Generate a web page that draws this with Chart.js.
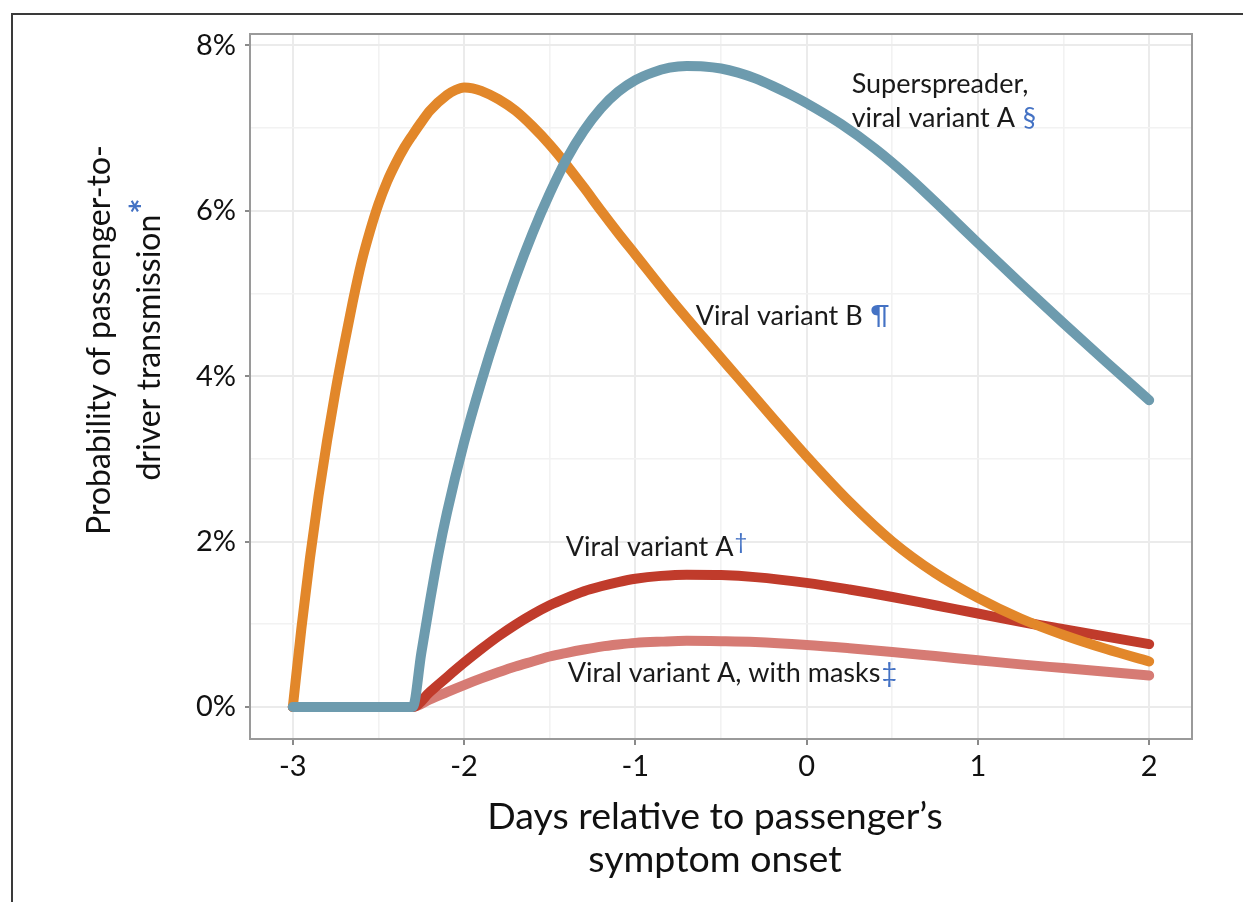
<!DOCTYPE html>
<html lang="en">
<head>
    <meta charset="UTF-8" />
    <title>Passenger-to-driver transmission</title>
    <style>
        body {
            margin: 0;
            background: #fff;
        }

        /* thin dark frame along the top and left edges */
        .frame {
            position: absolute;
            left: 11px;
            top: 13px;
            right: 0;
            bottom: 0;
            border-top: 2px solid #3a3a3a;
            border-left: 2px solid #3a3a3a;
        }

        .wrap {
            position: absolute;
            left: 0;
            top: 0;
            width: 1243px;
            height: 902px;
        }
    </style>
</head>
<body>
    <div class="frame"></div>
    <div class="wrap"><canvas id="chart"></canvas></div>

    <script src="https://cdn.jsdelivr.net/npm/chart.js"></script>
    <script>
        // Values: days relative to onset, probability in %
        const variantBDays = [-3, -2.95, -2.9, -2.85, -2.8, -2.75, -2.7, -2.65, -2.6, -2.55, -2.5, -2.45, -2.4,
            -2.35, -2.3, -2.25, -2.2, -2.1, -2.05, -2.0, -1.95, -1.9, -1.8, -1.7, -1.6, -1.5, -1.4, -1.3, -1.2,
            -1.1, -1.0, -0.8, -0.6, -0.4, -0.2, 0, 0.25, 0.5, 0.75, 1.0, 1.25, 1.5, 1.75, 2.0];
        const variantBValues = [0, 0.95, 1.8, 2.55, 3.22, 3.83, 4.38, 4.9, 5.37, 5.75, 6.08, 6.35, 6.57,
            6.76, 6.92, 7.07, 7.21, 7.4, 7.46, 7.49, 7.48, 7.45, 7.35, 7.21, 7.02, 6.8, 6.55, 6.28, 6.0,
            5.73, 5.47, 4.95, 4.46, 3.98, 3.5, 3.03, 2.48, 2.0, 1.62, 1.32, 1.07, 0.87, 0.7, 0.55];

        const superDays = [-3, -2.3, -2.25, -2.2, -2.15, -2.1, -2.0, -1.9, -1.8, -1.7, -1.6, -1.5, -1.4, -1.3,
            -1.2, -1.1, -1.0, -0.9, -0.8, -0.7, -0.6, -0.5, -0.4, -0.3, -0.2, -0.1, 0, 0.2, 0.4, 0.6, 0.8, 1.0,
            1.25, 1.5, 1.75, 2.0];
        const superValues = [0, 0, 0.65, 1.27, 1.85, 2.35, 3.2, 3.93, 4.59, 5.19, 5.73, 6.21, 6.63, 6.97,
            7.24, 7.44, 7.58, 7.67, 7.73, 7.75, 7.745, 7.72, 7.67, 7.6, 7.51, 7.41, 7.3, 7.05, 6.75, 6.4, 6.01, 5.61,
            5.12, 4.64, 4.17, 3.71];

        const variantADays = [-3, -2.3, -2.2, -2.1, -2.0, -1.9, -1.8, -1.7, -1.6, -1.5, -1.4, -1.3, -1.2, -1.1,
            -1.0, -0.85, -0.7, -0.5, -0.3, 0, 0.25, 0.5, 0.75, 1.0, 1.25, 1.5, 1.75, 2.0];
        const variantAValues = [0, 0, 0.18, 0.36, 0.535, 0.7, 0.855, 0.995, 1.12, 1.23, 1.32, 1.4, 1.46, 1.51,
            1.55, 1.585, 1.6, 1.595, 1.57, 1.5, 1.42, 1.33, 1.23, 1.13, 1.03, 0.94, 0.85, 0.76];

        const maskedDays = [-3, -2.3, -2.2, -2.1, -2.0, -1.9, -1.8, -1.7, -1.6, -1.5, -1.4, -1.3, -1.2, -1.1,
            -1.0, -0.85, -0.7, -0.5, -0.3, 0, 0.25, 0.5, 0.75, 1.0, 1.25, 1.5, 1.75, 2.0];
        const maskedValues = [0, 0, 0.09, 0.18, 0.265, 0.345, 0.42, 0.49, 0.55, 0.61, 0.655, 0.695, 0.73, 0.755,
            0.775, 0.79, 0.8, 0.795, 0.785, 0.75, 0.71, 0.665, 0.615, 0.565, 0.515, 0.47, 0.425, 0.38];

        // axis ticks (grid every half day / every 1 %, labels on whole days / even %)
        const xTicks = [-3, -2.5, -2, -1.5, -1, -0.5, 0, 0.5, 1, 1.5, 2];
        const yTicks = [0, 1, 2, 3, 4, 5, 6, 7, 8];

        // curve labels placed in data units
        const notes = [
            { text: 'Superspreader,', mark: '', x: 0.263, y: 7.43 },
            { text: 'viral variant A ', mark: '§', x: 0.263, y: 7.01 },
            { text: 'Viral variant B ', mark: '¶', x: -0.647, y: 4.62 },
            { text: 'Viral variant A', mark: '†', x: -1.406, y: 1.82, raised: true },
            { text: 'Viral variant A, with masks', mark: '‡', x: -1.395, y: 0.30 }
        ];

        const FONT = 'Lato, "Open Sans", sans-serif';
        const BLUE = '#4472C4';

        function toPoints(days, values) {
            return days.map((d, i) => ({ x: d, y: values[i] }));
        }

        // box, axis titles and curve labels
        const decorations = {
            id: 'decorations',
            afterDatasetsDraw(chart) {
                const ctx = chart.ctx;
                const xs = chart.scales.x, ys = chart.scales.y;
                ctx.save();
                ctx.textBaseline = 'alphabetic';
                ctx.textAlign = 'left';
                notes.forEach(n => {
                    const px = xs.getPixelForValue(n.x);
                    const py = ys.getPixelForValue(n.y);
                    ctx.font = '27px ' + FONT;
                    ctx.fillStyle = '#1a1a1a';
                    ctx.fillText(n.text, px, py);
                    if (n.mark) {
                        const w = ctx.measureText(n.text).width;
                        ctx.fillStyle = BLUE;
                        if (n.raised) {
                            ctx.font = '22px ' + FONT;
                            ctx.fillText(n.mark, px + w + 1, py - 7);
                        } else {
                            ctx.fillText(n.mark, px + w + 1, py);
                        }
                    }
                });
                ctx.restore();
            },
            afterDraw(chart) {
                const ctx = chart.ctx;
                const a = chart.chartArea;
                ctx.save();

                // panel border
                ctx.strokeStyle = '#9a9a9a';
                ctx.lineWidth = 2;
                ctx.strokeRect(a.left, a.top, a.right - a.left, a.bottom - a.top);

                // x title
                ctx.fillStyle = '#111';
                ctx.font = '37.5px ' + FONT;
                ctx.textAlign = 'center';
                ctx.textBaseline = 'alphabetic';
                ctx.fillText('Days relative to passenger\u2019s', 715, 829);
                ctx.fillText('symptom onset', 715, 872);

                // y title, rotated, with blue asterisk
                ctx.translate(110, 340);
                ctx.rotate(-Math.PI / 2);
                ctx.font = '32px ' + FONT;
                ctx.fillText('Probability of passenger-to-', 0, 0);
                const line2 = 'driver transmission';
                const w2 = ctx.measureText(line2).width;
                ctx.font = 'bold 36px ' + FONT;
                const ws = ctx.measureText('*').width;
                const start = -(w2 + ws) / 2;
                ctx.textAlign = 'left';
                ctx.font = '32px ' + FONT;
                ctx.fillText(line2, start, 50);
                ctx.fillStyle = BLUE;
                ctx.font = 'bold 36px ' + FONT;
                ctx.fillText('*', start + w2 + 1, 46);
                ctx.restore();
            }
        };

        const lineStyle = {
            pointRadius: 0,
            borderWidth: 10,
            borderCapStyle: 'round',
            borderJoinStyle: 'round',
            cubicInterpolationMode: 'monotone',
            fill: false
        };

        new Chart(document.getElementById('chart'), {
            type: 'line',
            data: {
                datasets: [
                    { ...lineStyle, label: 'Superspreader, viral variant A', data: toPoints(superDays, superValues), borderColor: '#6D9BAE', order: 1 },
                    { ...lineStyle, label: 'Viral variant B', data: toPoints(variantBDays, variantBValues), borderColor: '#E2872A', order: 2 },
                    { ...lineStyle, label: 'Viral variant A', data: toPoints(variantADays, variantAValues), borderColor: '#C03B2B', order: 3 },
                    { ...lineStyle, label: 'Viral variant A, with masks', data: toPoints(maskedDays, maskedValues), borderColor: '#D67B74', order: 4 }
                ]
            },
            options: {
                responsive: true,
                maintainAspectRatio: false,
                animation: false,
                layout: { padding: { top: 34, right: 51, left: 0, bottom: 0 } },
                plugins: {
                    legend: { display: false },
                    tooltip: { enabled: false }
                },
                scales: {
                    x: {
                        type: 'linear',
                        min: -3.25,
                        max: 2.25,
                        afterBuildTicks: s => { s.ticks = xTicks.map(v => ({ value: v })); },
                        afterFit: s => { s.height = 163; },
                        border: { display: false },
                        grid: {
                            color: c => Number.isInteger(c.tick.value) ? '#ebebeb' : '#f2f2f2',
                            lineWidth: c => Number.isInteger(c.tick.value) ? 2 : 1.6,
                            tickColor: c => Number.isInteger(c.tick.value) ? '#8a8a8a' : 'rgba(0,0,0,0)',
                            tickWidth: 2,
                            tickLength: 6
                        },
                        ticks: {
                            autoSkip: false,
                            maxRotation: 0,
                            padding: 4,
                            color: '#111',
                            font: { family: FONT, size: 29 },
                            callback: v => Number.isInteger(v) ? String(v) : ''
                        }
                    },
                    y: {
                        type: 'linear',
                        min: -0.3875,
                        max: 8.1375,
                        afterBuildTicks: s => { s.ticks = yTicks.map(v => ({ value: v })); },
                        afterFit: s => { s.width = 250; },
                        border: { display: false },
                        grid: {
                            color: c => c.tick.value % 2 === 0 ? '#ebebeb' : '#f2f2f2',
                            lineWidth: c => c.tick.value % 2 === 0 ? 2 : 1.6,
                            tickColor: c => c.tick.value % 2 === 0 ? '#8a8a8a' : 'rgba(0,0,0,0)',
                            tickWidth: 2,
                            tickLength: 5
                        },
                        ticks: {
                            autoSkip: false,
                            padding: 9,
                            color: '#111',
                            font: { family: FONT, size: 29 },
                            callback: v => v % 2 === 0 ? v + '%' : ''
                        }
                    }
                }
            },
            plugins: [decorations]
        });
    </script>
</body>
</html>
